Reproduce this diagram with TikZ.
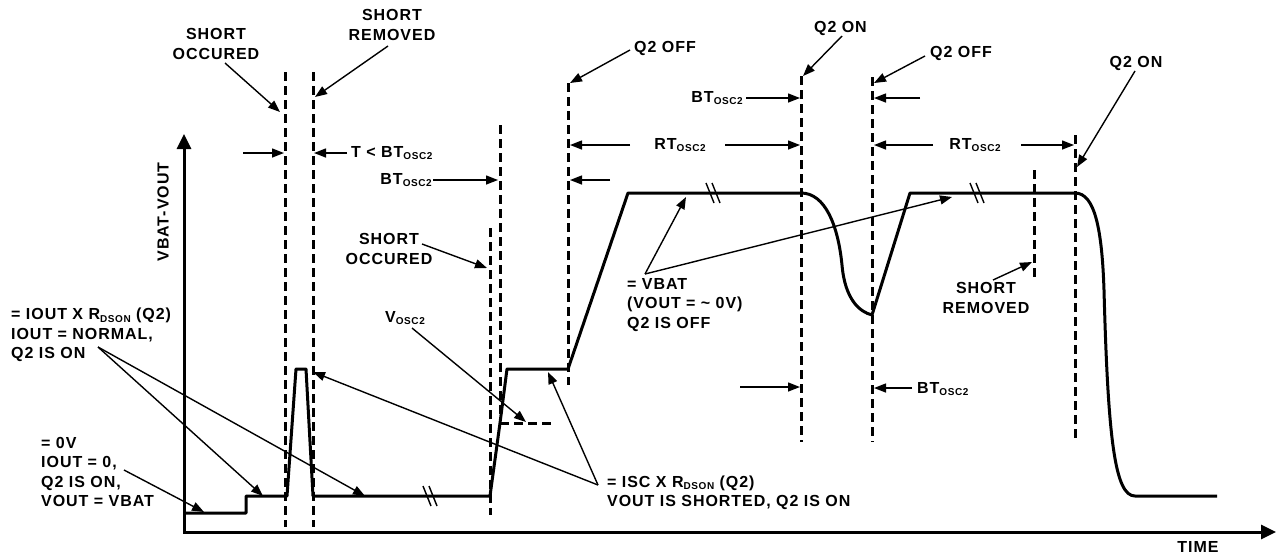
\documentclass[tikz,border=0pt]{standalone}
\usepackage{fontspec}
\setmainfont{Liberation Sans}[LetterSpace=6]
\usetikzlibrary{arrows.meta}
\newcommand{\subtag}[1]{\raisebox{-2.5pt}{\fontsize{10}{10}\selectfont #1}}

\begin{document}
\begin{tikzpicture}[
    x=1pt, y=-1pt,
    every node/.style={font=\bfseries\fontsize{16}{19.5}\selectfont, inner sep=0pt},
    wave/.style={line width=3pt, line join=round},
    marker/.style={line width=3pt, dash pattern=on 9pt off 5pt},
    axis/.style={line width=3pt, {Triangle[length=15pt,width=14pt]}-{Triangle[length=15pt,width=14pt]}},
    arrow/.style={line width=1.4pt, -{Triangle[length=12pt,width=9pt]}},
    brk/.style={line width=1.4pt},
    lbl/.style={align=center},
    blk/.style={align=left, anchor=west}
]
\useasboundingbox (0,0) rectangle (1280,558);

\coordinate (ytop) at (184,134);
\coordinate (origin) at (184,532);
\coordinate (xend) at (1276,532);
\draw[axis] (ytop) -- (origin) -- (xend);

\draw[wave] (184,513) -- (246,513) -- (246,496) -- (287,496) -- (296,369) -- (306,369) -- (313,496)
    -- (490,496) -- (500,423) -- (507,369) -- (568,369) -- (628,193) -- (801,193)
    .. controls (825,193) and (838,225) .. (842,265) .. controls (845,300) and (860,312) .. (872,315)
    -- (910,193) -- (1075,193)
    .. controls (1095,193) and (1102,230) .. (1104,290) .. controls (1108,440) and (1115,496) .. (1135,496)
    -- (1217,496);
\foreach \bx/\by in {430/496, 713/193, 977/193}
    \draw[brk] (\bx-7,\by-10) -- (\bx+1,\by+10) (\bx-1,\by-10) -- (\bx+7,\by+10);

\foreach \mx/\mt/\mb in {285/72/527, 313/72/527, 500/125/415, 490/228/515, 568/83/385,
    801/76/442, 872/77/442, 1034/170/280, 1075/135/440}
    \draw[marker] (\mx,\mt) -- (\mx,\mb);
\draw[marker] (500,423) -- (552,423);

\node[lbl] (occ1) at (216,44) {SHORT\\OCCURED};
\node[lbl] (rem1) at (392,25) {SHORT\\REMOVED};
\node[anchor=west] (tlt) at (351,153) {T < BT\subtag{OSC2}};
\node[anchor=east] (bt1) at (432,180) {BT\subtag{OSC2}};
\node[lbl] (occ2) at (389,249) {SHORT\\OCCURED};
\node[anchor=west] (off1) at (634,48) {Q2 OFF};
\node[anchor=east] (on1) at (867,28) {Q2 ON};
\node[anchor=east] (bt2) at (743,98) {BT\subtag{OSC2}};
\node (rt1) at (680,145) {RT\subtag{OSC2}};
\node[anchor=west] (off2) at (930,53) {Q2 OFF};
\node (rt2) at (975,145) {RT\subtag{OSC2}};
\node (on2) at (1136,63) {Q2 ON};
\node[lbl] (rem2) at (986,298) {SHORT\\REMOVED};
\node[anchor=west] (bt3) at (917,389) {BT\subtag{OSC2}};
\node[blk] (vbat) at (627,305) {= VBAT\\(VOUT = \textasciitilde{} 0V)\\Q2 IS OFF};
\node (vosc) at (405,318) {V\subtag{OSC2}};
\node[blk] (isc) at (607,493) {= ISC X R\subtag{DSON} (Q2)\\VOUT IS SHORTED, Q2 IS ON};
\node[blk] (iout) at (11,335) {= IOUT X R\subtag{DSON} (Q2)\\IOUT = NORMAL,\\Q2 IS ON};
\node[blk] (zero) at (41,472) {= 0V\\IOUT = 0,\\Q2 IS ON,\\VOUT = VBAT};
\node[rotate=90] (ylab) at (163,212) {VBAT-VOUT};
\node (xlab) at (1198,547) {TIME};

\coordinate (occ1 s) at (225,63);    \coordinate (occ1 t) at (280,112);
\coordinate (rem1 s) at (388,46);    \coordinate (rem1 t) at (315,97);
\coordinate (gap l) at (243,153);    \coordinate (gap lt) at (284,153);
\coordinate (gap r) at (347,153);    \coordinate (gap rt) at (314,153);
\coordinate (bt1 s) at (433,180);    \coordinate (bt1 t) at (498,180);
\coordinate (occ2 s) at (422,244);   \coordinate (occ2 t) at (487,268);
\coordinate (off1 s) at (630,50);    \coordinate (off1 t) at (570,83);
\coordinate (on1 s) at (842,36);     \coordinate (on1 t) at (803,76);
\coordinate (bt2 s) at (746,98);     \coordinate (bt2 t) at (800,98);
\coordinate (rt1 l) at (630,145);    \coordinate (rt1 lt) at (570,145);
\coordinate (rt1 r) at (725,145);    \coordinate (rt1 rt) at (800,145);
\coordinate (off1 b) at (610,180);   \coordinate (off1 bt) at (570,180);
\coordinate (off2 s) at (925,56);    \coordinate (off2 t) at (874,83);
\coordinate (off2 b) at (920,98);    \coordinate (off2 bt) at (874,98);
\coordinate (rt2 l) at (933,145);    \coordinate (rt2 lt) at (874,145);
\coordinate (rt2 r) at (1021,145);   \coordinate (rt2 rt) at (1074,145);
\coordinate (on2 s) at (1135,71);    \coordinate (on2 t) at (1077,167);
\coordinate (rem2 s) at (993,280);   \coordinate (rem2 t) at (1032,262);
\coordinate (bt3 s) at (912,388);    \coordinate (bt3 t) at (874,388);
\coordinate (on1 b) at (740,387);    \coordinate (on1 bt) at (800,387);
\coordinate (vbat s) at (645,274);
\coordinate (vbat t1) at (686,197);  \coordinate (vbat t2) at (952,197);
\coordinate (vosc s) at (412,328);   \coordinate (vosc t) at (526,422);
\coordinate (isc s) at (598,485);
\coordinate (isc t1) at (548,372);   \coordinate (isc t2) at (313,372);
\coordinate (iout s) at (98,347);
\coordinate (iout t1) at (263,496);  \coordinate (iout t2) at (365,496);
\coordinate (zero s) at (124,470);   \coordinate (zero t) at (204,512);

\draw[arrow] (occ1 s) -- (occ1 t);
\draw[arrow] (rem1 s) -- (rem1 t);
\draw[arrow] (gap l) -- (gap lt);
\draw[arrow] (gap r) -- (gap rt);
\draw[arrow] (bt1 s) -- (bt1 t);
\draw[arrow] (occ2 s) -- (occ2 t);
\draw[arrow] (off1 s) -- (off1 t);
\draw[arrow] (on1 s) -- (on1 t);
\draw[arrow] (bt2 s) -- (bt2 t);
\draw[arrow] (rt1 l) -- (rt1 lt);
\draw[arrow] (rt1 r) -- (rt1 rt);
\draw[arrow] (off1 b) -- (off1 bt);
\draw[arrow] (off2 s) -- (off2 t);
\draw[arrow] (off2 b) -- (off2 bt);
\draw[arrow] (rt2 l) -- (rt2 lt);
\draw[arrow] (rt2 r) -- (rt2 rt);
\draw[arrow] (on2 s) -- (on2 t);
\draw[arrow] (rem2 s) -- (rem2 t);
\draw[arrow] (bt3 s) -- (bt3 t);
\draw[arrow] (on1 b) -- (on1 bt);
\draw[arrow] (vbat s) -- (vbat t1);
\draw[arrow] (vbat s) -- (vbat t2);
\draw[arrow] (vosc s) -- (vosc t);
\draw[arrow] (isc s) -- (isc t1);
\draw[arrow] (isc s) -- (isc t2);
\draw[arrow] (iout s) -- (iout t1);
\draw[arrow] (iout s) -- (iout t2);
\draw[arrow] (zero s) -- (zero t);
\end{tikzpicture}
\end{document}
